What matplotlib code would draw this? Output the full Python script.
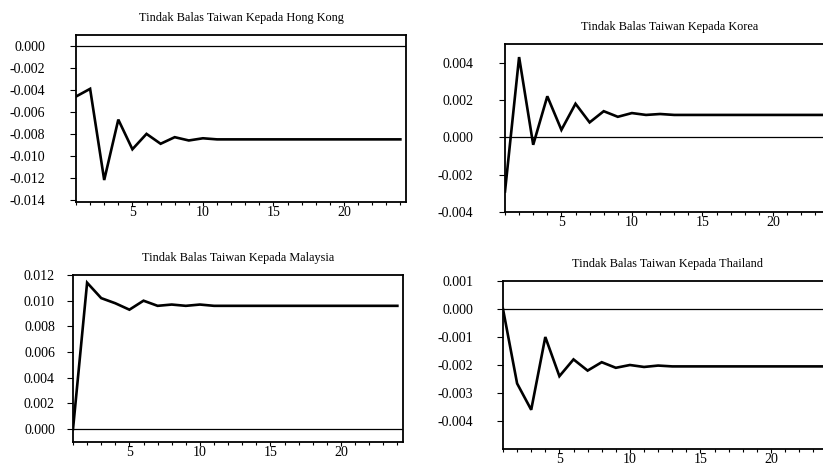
import matplotlib
matplotlib.use("Agg")
import matplotlib.pyplot as plt
from matplotlib.ticker import MultipleLocator, FormatStrFormatter

# ────── Data (impulse responses, periods 1..24) ──────

PERIODS = list(range(1, 25))

HONG_KONG = [-0.0046, -0.0039, -0.0122, -0.0067, -0.0094, -0.0080, -0.0089, -0.0083,
             -0.0086, -0.0084, -0.0085, -0.0085, -0.0085, -0.0085, -0.0085, -0.0085,
             -0.0085, -0.0085, -0.0085, -0.0085, -0.0085, -0.0085, -0.0085, -0.0085]

KOREA = [-0.0029, 0.0043, -0.0004, 0.0022, 0.0004, 0.0018, 0.0008, 0.0014,
         0.0011, 0.0013, 0.0012, 0.00125, 0.0012, 0.0012, 0.0012, 0.0012,
         0.0012, 0.0012, 0.0012, 0.0012, 0.0012, 0.0012, 0.0012, 0.0012]

MALAYSIA = [0.0000, 0.0114, 0.0102, 0.0098, 0.0093, 0.0100, 0.0096, 0.0097,
            0.0096, 0.0097, 0.0096, 0.0096, 0.0096, 0.0096, 0.0096, 0.0096,
            0.0096, 0.0096, 0.0096, 0.0096, 0.0096, 0.0096, 0.0096, 0.0096]

THAILAND = [0.0000, -0.00266, -0.0036, -0.0010, -0.0024, -0.0018, -0.0022, -0.0019,
            -0.0021, -0.0020, -0.00207, -0.00202, -0.00205, -0.00205, -0.00205, -0.00205,
            -0.00205, -0.00205, -0.00205, -0.00205, -0.00205, -0.00205, -0.00205, -0.00205]

TITLES = ["Tindak Balas Taiwan Kepada Hong Kong",
          "Tindak Balas Taiwan Kepada Korea",
          "Tindak Balas Taiwan Kepada Malaysia",
          "Tindak Balas Taiwan Kepada Thailand"]

# ────── Layout (pixel boxes: left, top, right, bottom) ──────

W, H = 823, 468
BOXES = [(76, 35, 406, 202),
         (505, 44, 835, 212),
         (73, 275, 403, 442),
         (503, 281, 833, 449)]
YLIMS = [(-0.0142, 0.001), (-0.004, 0.005), (-0.001, 0.012), (-0.005, 0.001)]
YSTEPS = [0.002, 0.002, 0.002, 0.001]
YTICKS = [None, [-0.004, -0.002, 0.0, 0.002, 0.004], None,
          [-0.004, -0.003, -0.002, -0.001, 0.0, 0.001]]
YPADS = [18, 19, 9, 17.5]
XLIM = (1, 24.4)

plt.rcParams["font.family"] = ["Liberation Serif", "DejaVu Serif"]


def panel(fig, box, values, title, ylim, ystep, yticks, ypad):
    l, t, r, b = box
    ax = fig.add_axes([l / W, 1 - b / H, (r - l) / W, (b - t) / H])
    ax.plot(PERIODS, values, color="black", lw=1.9, solid_joinstyle="miter")
    ax.axhline(0, color="black", lw=0.9)
    ax.set_xlim(*XLIM)
    ax.set_ylim(*ylim)
    ax.xaxis.set_major_locator(MultipleLocator(5))
    ax.xaxis.set_minor_locator(MultipleLocator(1))
    if yticks is None:
        ax.yaxis.set_major_locator(MultipleLocator(ystep))
    else:
        ax.set_yticks(yticks)
    ax.yaxis.set_major_formatter(FormatStrFormatter("%.3f"))
    ax.tick_params(axis="both", which="major", width=0.8, labelsize=10, direction="out")
    ax.tick_params(axis="x", which="major", length=3, pad=0)
    ax.tick_params(axis="x", which="minor", length=1.8, width=0.8, direction="out")
    ax.tick_params(axis="y", which="major", length=4, pad=ypad)
    for s in ax.spines.values():
        s.set_linewidth(1.3)
    ax.set_title(title, fontsize=8.8, pad=10)
    return ax


fig = plt.figure(figsize=(W / 100, H / 100), dpi=100)
fig.patch.set_facecolor("white")

series = [HONG_KONG, KOREA, MALAYSIA, THAILAND]
for i in range(4):
    panel(fig, BOXES[i], series[i], TITLES[i], YLIMS[i], YSTEPS[i], YTICKS[i], YPADS[i])

fig.savefig("out.png", dpi=100)
